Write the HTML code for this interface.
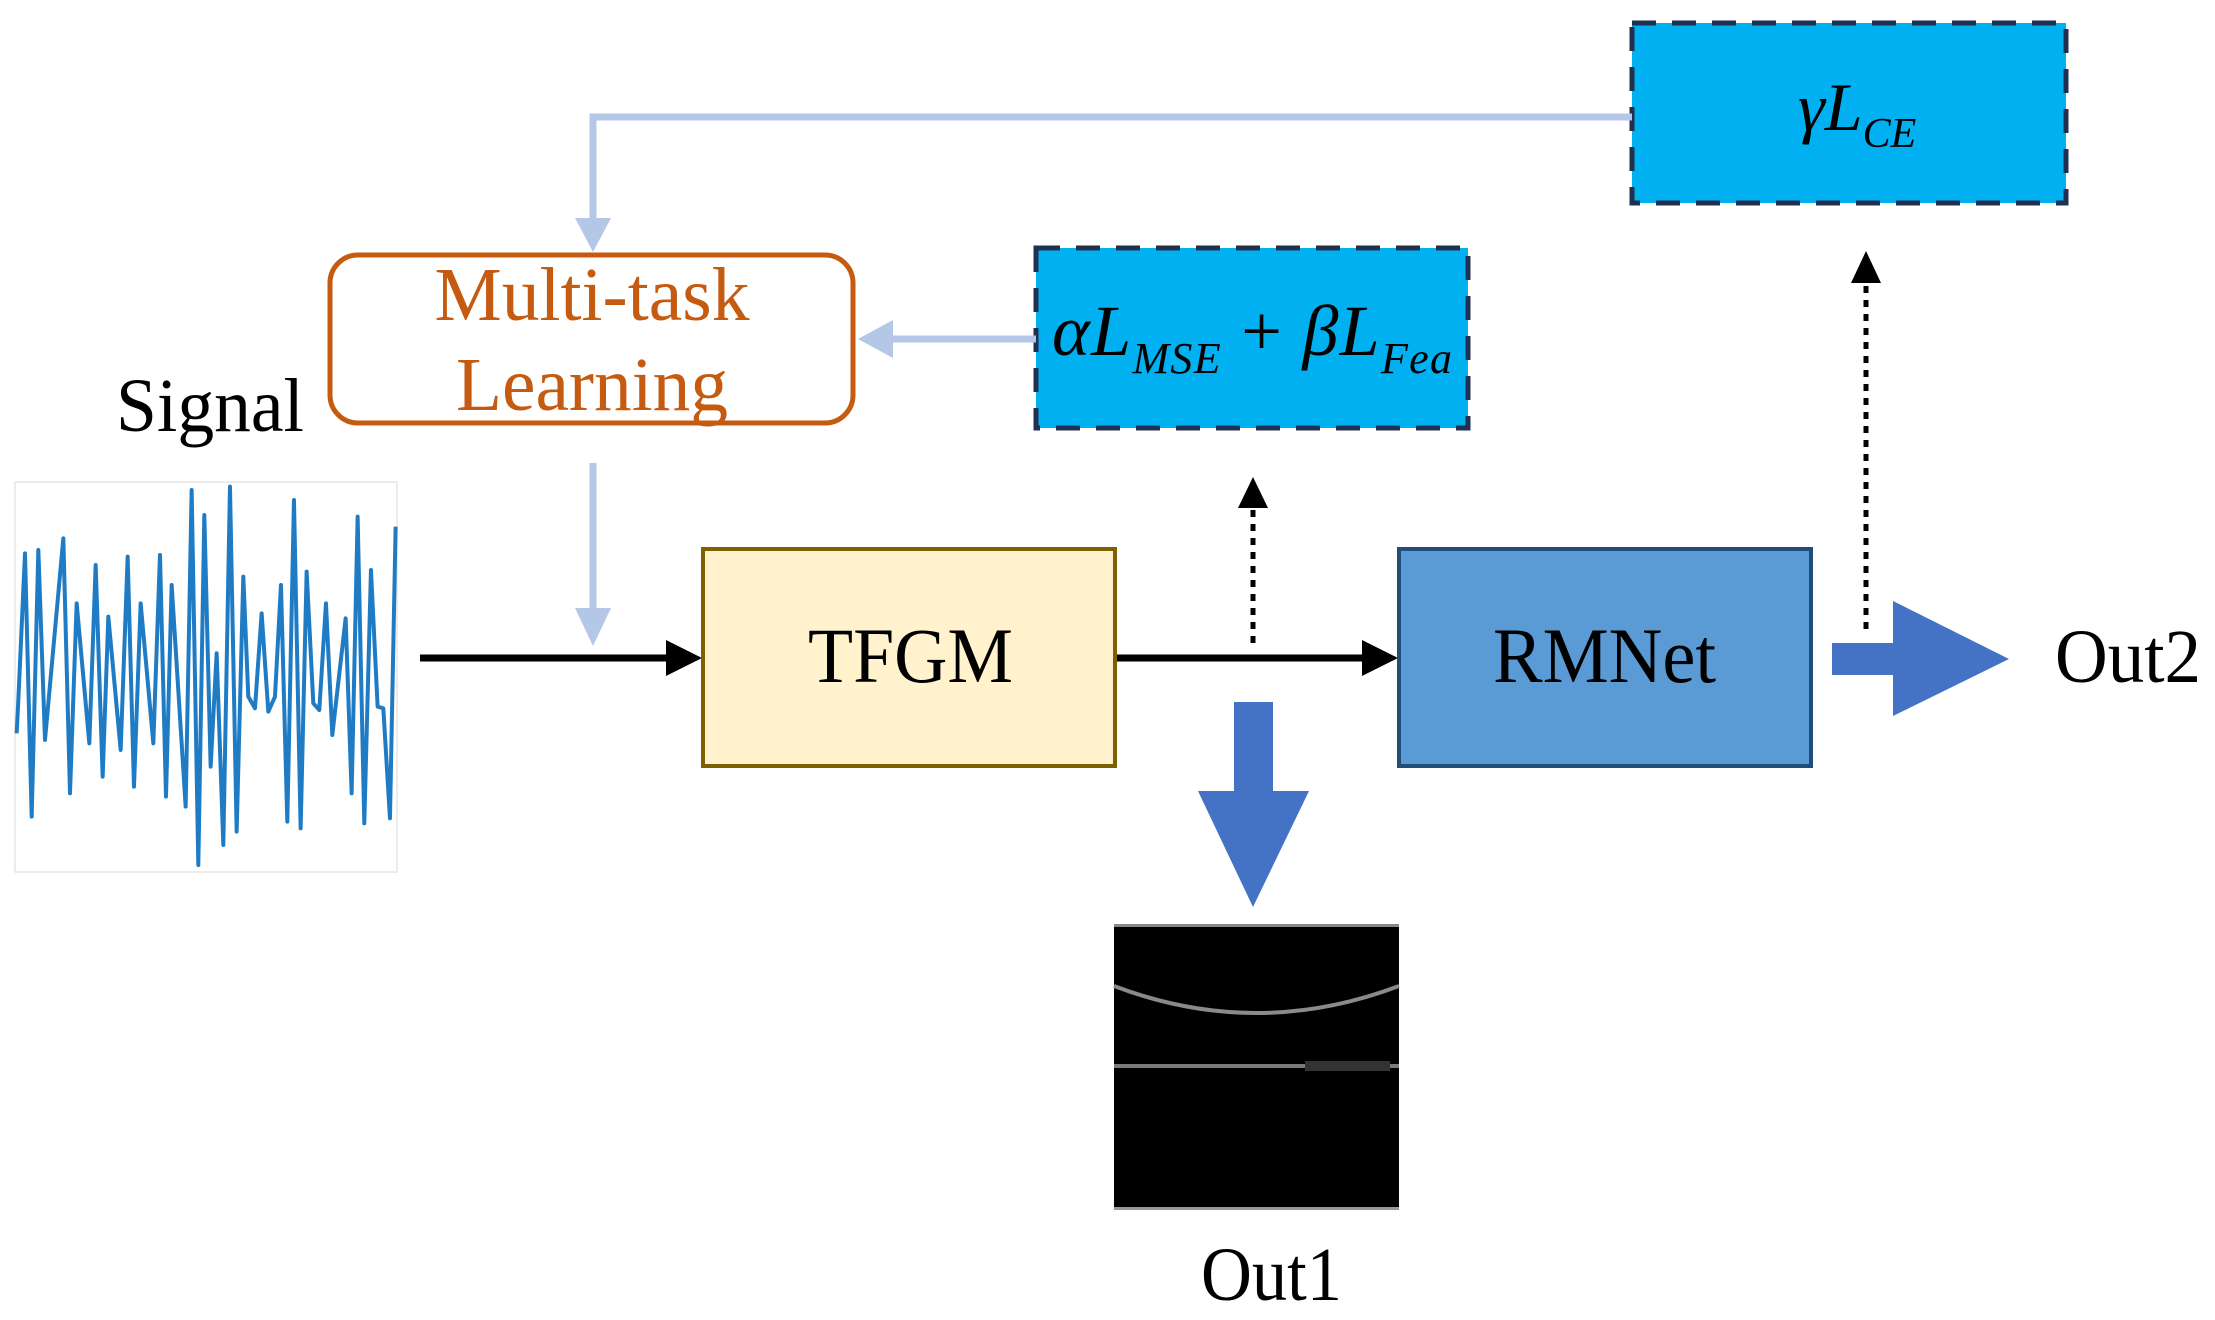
<!DOCTYPE html>
<html><head><meta charset="utf-8"><style>
html,body{margin:0;padding:0;background:#fff;}
svg{display:block;}
text{font-family:"Liberation Serif",serif;}
</style></head><body>
<svg width="2215" height="1320" viewBox="0 0 2215 1320" xmlns="http://www.w3.org/2000/svg">

<!-- gamma box -->
<rect x="1632" y="23" width="434" height="180" fill="#00B0F0" stroke="#1F3050" stroke-width="5" stroke-dasharray="24,16"/>
<text x="1798" y="130" font-size="68" font-style="italic">γ<tspan>L</tspan><tspan font-size="42" dy="17">CE</tspan></text>

<!-- alpha box -->
<rect x="1036" y="248" width="432" height="180" fill="#00B0F0" stroke="#1F3050" stroke-width="5" stroke-dasharray="24,16"/>
<text x="1052" y="355" font-size="72" font-style="italic" textLength="400">αL<tspan font-size="44" dy="18">MSE</tspan><tspan dy="-18" font-style="normal"> + </tspan>βL<tspan font-size="44" dy="18">Fea</tspan></text>

<!-- light blue feedback lines -->
<polyline points="1632,117 593,117 593,222" fill="none" stroke="#B4C7E7" stroke-width="7"/>
<path d="M575,218 L611,218 L593,252 z" fill="#B4C7E7"/>
<line x1="1036" y1="339" x2="890" y2="339" stroke="#B4C7E7" stroke-width="7"/>
<path d="M893,320 L893,358 L858,339 z" fill="#B4C7E7"/>
<line x1="593" y1="463" x2="593" y2="612" stroke="#B4C7E7" stroke-width="7"/>
<path d="M575,608 L611,608 L593,646 z" fill="#B4C7E7"/>

<!-- Multi-task box -->
<rect x="330" y="255" width="523" height="168" rx="28" fill="#fff" stroke="#C55A11" stroke-width="5"/>
<text x="592" y="320" font-size="76" fill="#C55A11" text-anchor="middle" textLength="315" lengthAdjust="spacingAndGlyphs">Multi-task</text>
<text x="592" y="410" font-size="76" fill="#C55A11" text-anchor="middle" textLength="272" lengthAdjust="spacingAndGlyphs">Learning</text>

<text x="116" y="431" font-size="76" textLength="188" lengthAdjust="spacingAndGlyphs">Signal</text>

<!-- signal plot -->
<rect x="15" y="482" width="382" height="390" fill="#fff" stroke="#e6e6e6" stroke-width="1.5"/>
<g transform="translate(0,460) scale(0.3333)">
<polyline fill="none" stroke="#1F7CC4" stroke-width="12" stroke-linejoin="round" points="50,820 55,720 75,280 95,1070 115,270 135,840 190,235 210,1000 230,430 268,850 287,315 308,950 325,470 362,870 383,290 402,980 422,430 460,850 480,285 498,1010 515,375 557,1040 575,90 595,1215 613,165 632,920 650,580 670,1155 690,80 710,1115 730,350 745,710 765,745 785,460 805,755 825,710 843,375 862,1085 882,120 902,1105 920,335 940,730 958,750 978,430 997,825 1037,475 1055,1000 1073,170 1093,1090 1113,330 1133,740 1150,745 1170,1075 1187,200"/>
</g>

<!-- black arrows -->
<line x1="420" y1="658" x2="692" y2="658" stroke="#000" stroke-width="7"/>
<path d="M666,640 L702,658 L666,676 z" fill="#000"/>
<line x1="1116" y1="658" x2="1388" y2="658" stroke="#000" stroke-width="7"/>
<path d="M1362,640 L1398,658 L1362,676 z" fill="#000"/>

<!-- TFGM -->
<rect x="703" y="549" width="412" height="217" fill="#FFF2CC" stroke="#7F6000" stroke-width="4"/>
<text x="808" y="682" font-size="78" textLength="205" lengthAdjust="spacingAndGlyphs">TFGM</text>

<!-- RMNet -->
<rect x="1399" y="549" width="412" height="217" fill="#5B9BD5" stroke="#1F4E79" stroke-width="4"/>
<text x="1493" y="682" font-size="78" textLength="223" lengthAdjust="spacingAndGlyphs">RMNet</text>

<!-- dotted arrows -->
<line x1="1253" y1="643" x2="1253" y2="500" stroke="#000" stroke-width="5" stroke-dasharray="7,7"/>
<path d="M1238,508 L1253,477 L1268,508 z" fill="#000"/>
<line x1="1866" y1="629" x2="1866" y2="275" stroke="#000" stroke-width="5" stroke-dasharray="7,7"/>
<path d="M1851,283 L1866,251 L1881,283 z" fill="#000"/>

<!-- big blue arrows -->
<rect x="1234" y="702" width="39" height="92" fill="#4472C4"/>
<path d="M1198,791 L1309,791 L1253,907 z" fill="#4472C4"/>
<rect x="1832" y="643" width="64" height="32" fill="#4472C4"/>
<path d="M1893,601 L2009,659 L1893,716 z" fill="#4472C4"/>

<text x="2055" y="682" font-size="76" textLength="146" lengthAdjust="spacingAndGlyphs">Out2</text>

<!-- Out1 image -->
<rect x="1114" y="924" width="285" height="286" fill="#000"/>
<rect x="1114" y="924" width="285" height="3" fill="#888"/>
<rect x="1114" y="1207" width="285" height="3" fill="#999"/>
<path d="M1114,986 Q1256,1040 1399,986" fill="none" stroke="#8a8a8a" stroke-width="4"/>
<line x1="1114" y1="1066" x2="1399" y2="1066" stroke="#7a7a7a" stroke-width="4"/>
<rect x="1305" y="1061" width="85" height="10" fill="#333"/>

<text x="1201" y="1300" font-size="76" textLength="141" lengthAdjust="spacingAndGlyphs">Out1</text>
</svg>
</body></html>
